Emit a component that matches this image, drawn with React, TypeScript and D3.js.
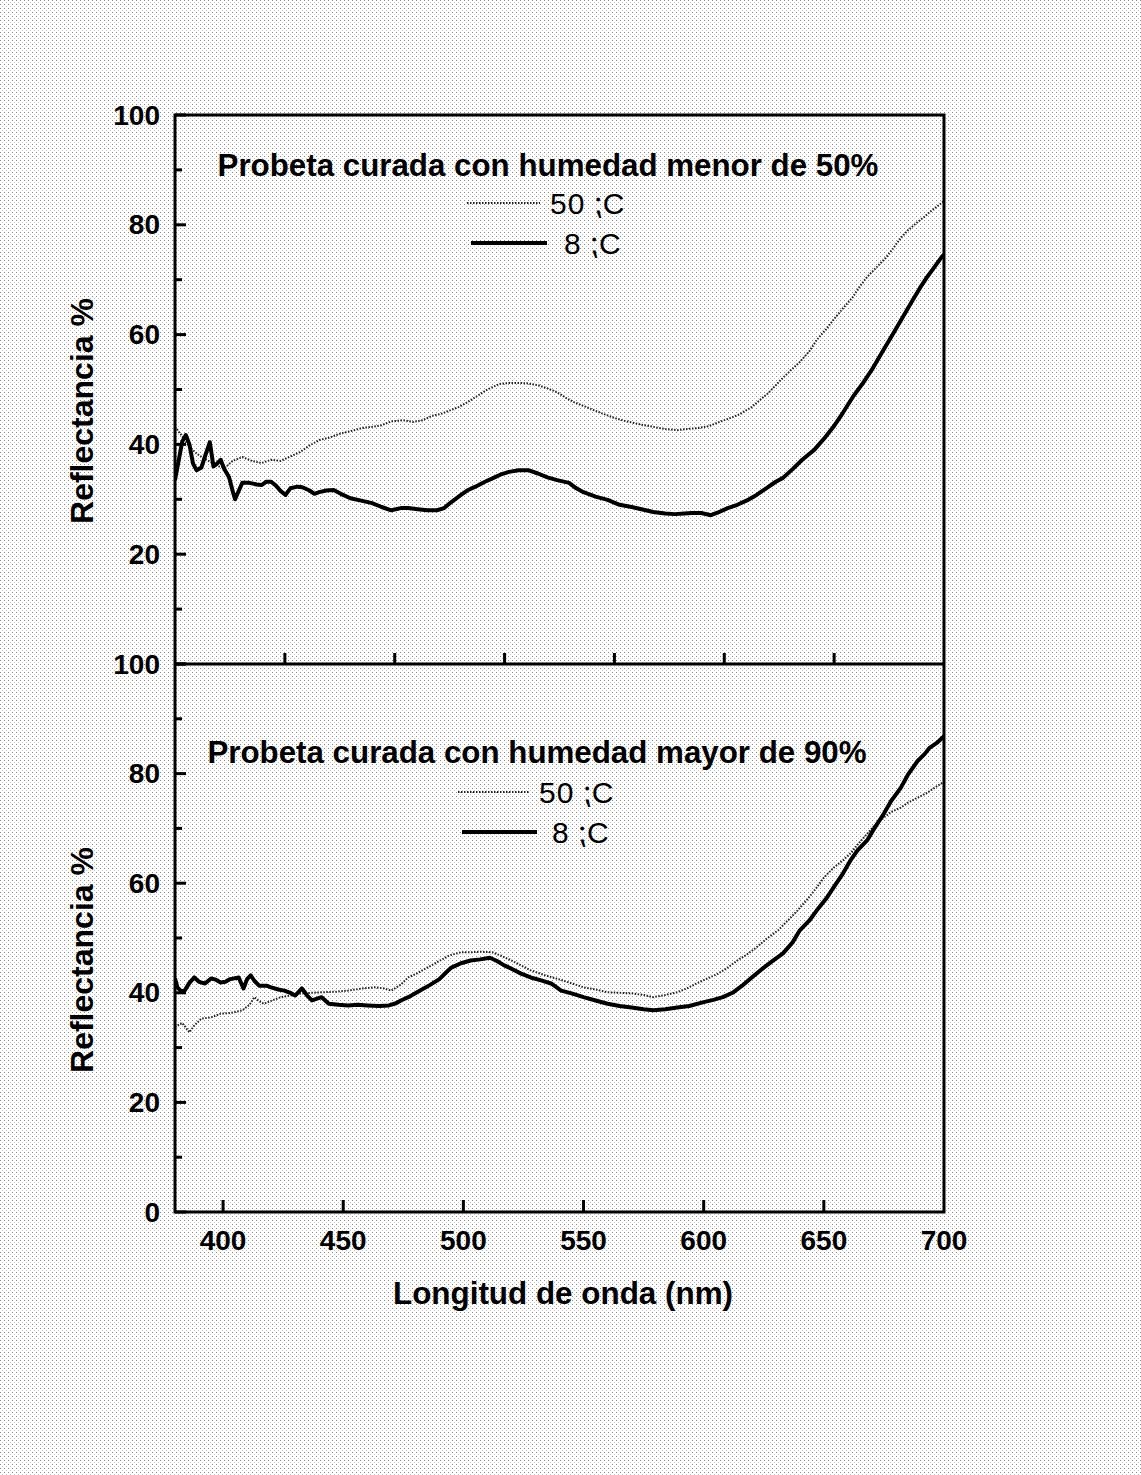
import * as d3 from 'd3';

const W = 1141;
const H = 1475;
const left = 175;
const right = 944;
const topY = 115;
const midY = 664;
const botY = 1212;

const font = '"Liberation Sans", Arial, sans-serif';

// 上段: 湿度50%未満
const top50nm = [380, 383, 386, 390, 394, 398, 401, 404, 408, 412, 416, 420, 424, 428, 432, 436, 440, 444, 449, 453, 458, 462, 466, 470, 475, 479, 483, 487, 491, 495, 498, 501, 505, 510, 515, 519, 523, 527, 531, 535, 539, 543, 546, 550, 554, 558, 563, 567, 571, 575, 579, 584, 589, 593, 598, 602, 606, 611, 615, 620, 624, 627, 632, 636, 640, 644, 647, 651, 654, 658, 662, 665, 668, 672, 676, 679, 682, 685, 689, 692, 694, 697, 700];
const top50 = [43.2, 41.5, 39.5, 38, 37, 36, 35.8, 37, 37.7, 37, 36.6, 37.2, 37, 37.8, 38.6, 39.8, 40.8, 41.2, 42, 42.4, 43, 43.2, 43.5, 44.2, 44.4, 44.1, 44.4, 45.2, 45.6, 46.3, 46.8, 47.5, 48.6, 50, 51, 51.2, 51.2, 51.1, 50.8, 50.2, 49.5, 48.4, 47.7, 47, 46.3, 45.6, 44.8, 44.3, 43.9, 43.5, 43.2, 42.8, 42.6, 42.8, 43, 43.3, 44, 44.8, 45.5, 46.8, 48.3, 49.4, 51.7, 53.4, 55, 57, 59, 61, 62.7, 64.8, 66.8, 68.8, 70.5, 72.3, 74.1, 75.8, 77.6, 79, 80.5, 81.5, 82.3, 83.3, 84.3];

const top8nm = [380, 381.5, 383, 384.5, 386, 387.5, 389, 391, 393, 394.5, 396, 397.5, 399, 400.5, 402.5, 404, 405, 406.5, 408, 411, 414, 416, 418, 420, 422, 424, 426, 428, 431, 433, 436, 438, 440, 443, 446, 449, 453, 457, 462, 466, 470, 474, 477, 481, 485, 489, 492, 495, 499, 502, 505, 509, 513, 516, 519, 523, 527, 531, 535, 539, 544, 547, 550, 555, 560, 565, 570, 575, 579, 584, 588, 592, 595, 599, 603, 606, 610, 614, 618, 622, 626, 630, 633, 637, 641, 646, 650, 654, 658, 662, 666, 670, 674, 679, 683, 687, 690, 693, 696, 699, 700];
const top8 = [33.5, 37, 40.5, 41.7, 40, 36.5, 35.3, 35.8, 38.5, 40.4, 36, 36.5, 37.2, 35.5, 34, 31.5, 30, 31.5, 33, 33, 32.7, 32.6, 33.2, 33.2, 32.5, 31.5, 30.8, 32, 32.3, 32.2, 31.6, 31, 31.3, 31.6, 31.7, 31, 30.2, 29.8, 29.3, 28.6, 28, 28.4, 28.4, 28.2, 28, 28, 28.4, 29.5, 30.8, 31.7, 32.3, 33.2, 34, 34.6, 35, 35.3, 35.3, 34.7, 34, 33.5, 33, 32, 31.3, 30.5, 29.9, 29, 28.6, 28.1, 27.7, 27.4, 27.3, 27.4, 27.5, 27.5, 27.1, 27.6, 28.4, 29, 29.8, 30.8, 32, 33.2, 33.9, 35.5, 37.2, 39, 41, 43.2, 45.8, 48.6, 51, 53.6, 56.6, 60.3, 63.3, 66.3, 68.5, 70.5, 72.3, 74.1, 74.6];

// 下段: 湿度90%超
const bot50nm = [380, 383, 386, 388, 391, 395, 399, 403, 408, 411, 413, 415, 417, 421, 424, 428, 433, 437, 441, 447, 452, 458, 463, 467, 470, 474, 477, 481, 485, 490, 494, 499, 503, 507, 512, 516, 520, 524, 528, 534, 541, 546, 550, 555, 560, 565, 570, 575, 579, 584, 589, 593, 597, 601, 606, 610, 614, 618, 622, 626, 631, 635, 639, 643, 647, 650, 654, 658, 661, 664, 668, 671, 675, 678, 682, 685, 689, 693, 696, 700];
const bot50 = [33.8, 34.5, 32.8, 34, 35.3, 35.5, 36.2, 36.3, 36.8, 37.8, 39.2, 38.5, 38, 38.7, 39.2, 39.5, 39.9, 40, 40.1, 40.2, 40.4, 40.8, 41, 40.8, 40.4, 41.5, 42.8, 43.6, 44.6, 45.8, 46.8, 47.4, 47.4, 47.5, 47.4, 46.7, 45.9, 45, 44.1, 43.2, 42.3, 41.6, 41, 40.6, 40.1, 40, 39.9, 39.6, 39.2, 39.6, 40.1, 40.8, 41.7, 42.5, 43.5, 44.6, 45.9, 47, 48.3, 49.8, 51.4, 53.2, 55, 57, 59.2, 61, 62.8, 64.2, 65.4, 67, 69, 70.5, 72, 73, 73.8, 74.7, 75.6, 76.5, 77.4, 78.5];

const bot8nm = [380, 381, 382.5, 384, 386, 388, 390, 392.5, 395, 397, 399, 401, 403, 406.5, 408.5, 410, 411.5, 413, 415, 418, 420, 423, 425.5, 428, 430, 432.8, 435, 437, 441, 444, 448, 452, 456, 460, 465, 469, 472, 474, 478, 482, 486, 490, 493, 495, 499, 503, 507, 511, 514, 517, 520, 524, 528, 532, 536.5, 540.7, 545, 550, 555, 560, 565, 570, 575, 579, 584, 589, 594, 600, 604, 608, 612, 616, 620, 625, 629, 633, 637, 640, 644, 647, 651, 654, 658, 661, 664, 668, 671, 675, 678, 682, 685, 689, 692, 694, 697, 700];
const bot8 = [42.6, 41, 40.3, 40.4, 41.8, 42.8, 42, 41.7, 42.6, 42.4, 41.9, 42, 42.5, 42.8, 40.8, 42.5, 43.2, 42.2, 41.3, 41.3, 41, 40.6, 40.4, 40, 39.5, 40.8, 39.5, 38.6, 39.2, 38, 37.8, 37.7, 37.8, 37.7, 37.6, 37.7, 38.1, 38.6, 39.4, 40.4, 41.4, 42.5, 43.8, 44.6, 45.4, 45.9, 46.1, 46.4, 45.8, 45, 44.4, 43.5, 42.8, 42.3, 41.7, 40.4, 39.9, 39.2, 38.6, 38, 37.6, 37.3, 37, 36.8, 37, 37.3, 37.6, 38.3, 38.7, 39.2, 40, 41.3, 42.8, 44.6, 45.9, 47.2, 49.2, 51.4, 53.2, 55, 57.2, 59.2, 61.8, 64.1, 66, 67.8, 70, 72.7, 75, 77.4, 79.8, 82.3, 83.6, 84.7, 85.6, 86.8];

const xTicks = [400, 450, 500, 550, 600, 650, 700];
const topPanelTicks = [400, 450, 500, 550, 600, 650];
const yMajor = [0, 20, 40, 60, 80, 100];
const yMinor = [10, 30, 50, 70, 90];

const panels = [
  {
    key: 'top',
    title: 'Probeta curada con humedad menor de 50%',
    y0: topY,
    y1: midY,
    nm50: top50nm,
    v50: top50,
    nm8: top8nm,
    v8: top8,
    titleX: 548,
    titleY: 165,
    labelY: 411,
    leg: { g1: 467, g2: 540, t50: 550, b1: 471, b2: 547, t8: 564, y50: 203, y8: 243 },
    labels: [20, 40, 60, 80, 100],
  },
  {
    key: 'bot',
    title: 'Probeta curada con humedad mayor de 90%',
    y0: midY,
    y1: botY,
    nm50: bot50nm,
    v50: bot50,
    nm8: bot8nm,
    v8: bot8,
    titleX: 537,
    titleY: 752,
    labelY: 960,
    leg: { g1: 458, g2: 530, t50: 539, b1: 462, b2: 537, t8: 552, y50: 792, y8: 832 },
    labels: [0, 20, 40, 60, 80, 100],
  },
];

const dotted = { stroke: '#222', strokeWidth: 2, strokeDasharray: '1.5 1.5' };

export default function App() {
  const x = d3.scaleLinear().domain([380, 700]).range([left, right]);
  // 上段下辺の目盛り (350–700 の軸)
  const xTop = d3.scaleLinear().domain([350, 700]).range([left, right]);

  return (
    <svg
      width={W}
      height={H}
      style={{ position: 'absolute', left: 0, top: 0 }}
      fontFamily={font}
    >
      <defs>
        <pattern id="dots" width="4" height="4" patternUnits="userSpaceOnUse">
          <rect width="4" height="4" fill="#ffffff" />
          <rect width="1" height="1" fill="#8a8a8a" />
          <rect x="2" y="2" width="1" height="1" fill="#c4c4c4" />
        </pattern>
        <clipPath id="clip-top">
          <rect x={left} y={topY} width={right - left} height={midY - topY} />
        </clipPath>
        <clipPath id="clip-bot">
          <rect x={left} y={midY} width={right - left} height={botY - midY} />
        </clipPath>
      </defs>
      <rect width={W} height={H} fill="url(#dots)" />

      {panels.map((p) => {
        const y = d3.scaleLinear().domain([0, 100]).range([p.y1, p.y0]);
        const mk = (nm: number[], v: number[]) =>
          d3
            .line<number>()
            .x((d) => x(d))
            .y((_, i) => y(v[i]))(nm) ?? '';
        return (
          <g key={p.key}>
            <g clipPath={`url(#clip-${p.key})`}>
              <path d={mk(p.nm50, p.v50)} fill="none" {...dotted} />
              <path
                d={mk(p.nm8, p.v8)}
                fill="none"
                stroke="#000"
                strokeWidth={4}
                strokeLinejoin="round"
              />
            </g>
            {/* y ticks */}
            {yMajor.map((t) => (
              <line key={'M' + t} x1={left} x2={left + 11} y1={y(t)} y2={y(t)} stroke="#000" strokeWidth={3} />
            ))}
            {yMinor.map((t) => (
              <line key={'m' + t} x1={left} x2={left + 7} y1={y(t)} y2={y(t)} stroke="#000" strokeWidth={3} />
            ))}
            {p.labels.map((t) => (
              <text
                key={'l' + t}
                x={160}
                y={y(t)}
                textAnchor="end"
                dominantBaseline="central"
                fontSize={28}
                fontWeight="bold"
              >
                {t}
              </text>
            ))}
            <text
              transform={`translate(82,${p.labelY}) rotate(-90)`}
              textAnchor="middle"
              dominantBaseline="central"
              fontSize={32}
              fontWeight="bold"
            >
              Reflectancia %
            </text>
            <text
              x={p.titleX}
              y={p.titleY}
              textAnchor="middle"
              dominantBaseline="central"
              fontSize={31.3}
              fontWeight="bold"
            >
              {p.title}
            </text>
            {/* legend */}
            <line x1={p.leg.g1} x2={p.leg.g2} y1={p.leg.y50} y2={p.leg.y50} {...dotted} />
            <text x={p.leg.t50} y={p.leg.y50} dominantBaseline="central" fontSize={30} letterSpacing={1}>
              50 ⁏C
            </text>
            <line x1={p.leg.b1} x2={p.leg.b2} y1={p.leg.y8} y2={p.leg.y8} stroke="#000" strokeWidth={4} />
            <text x={p.leg.t8} y={p.leg.y8} dominantBaseline="central" fontSize={30} letterSpacing={1}>
              8 ⁏C
            </text>
          </g>
        );
      })}

      {/* 上段下辺の目盛り */}
      {topPanelTicks.map((t) => (
        <line key={'tt' + t} x1={xTop(t)} x2={xTop(t)} y1={midY} y2={midY - 11} stroke="#000" strokeWidth={3} />
      ))}
      {/* x axis */}
      {xTicks.slice(0, -1).map((t) => (
        <line key={'xt' + t} x1={x(t)} x2={x(t)} y1={botY} y2={botY - 12} stroke="#000" strokeWidth={3} />
      ))}
      {xTicks.map((t) => (
        <text key={'xl' + t} x={x(t)} y={1240} textAnchor="middle" dominantBaseline="central" fontSize={28} fontWeight="bold">
          {t}
        </text>
      ))}
      <text x={563} y={1293} textAnchor="middle" dominantBaseline="central" fontSize={31.4} fontWeight="bold">
        Longitud de onda (nm)
      </text>

      {/* frame */}
      <rect x={left} y={topY} width={right - left} height={botY - topY} fill="none" stroke="#000" strokeWidth={3} />
      <line x1={left} x2={right} y1={midY} y2={midY} stroke="#000" strokeWidth={3} />
    </svg>
  );
}
